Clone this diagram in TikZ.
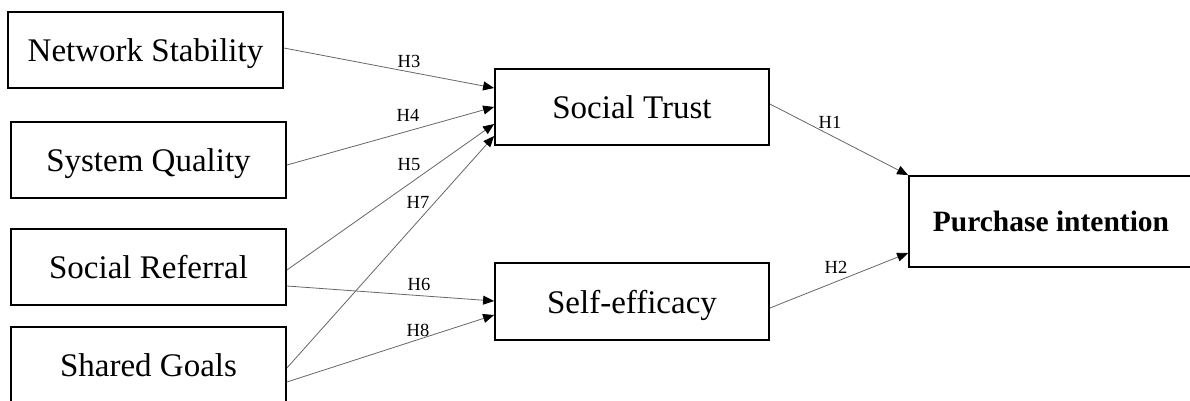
\documentclass[tikz,border=0pt]{standalone}
\usepackage{fontspec}
\setmainfont{Liberation Serif}
\usetikzlibrary{arrows.meta,calc}

\tikzset{
  construct/.style={draw, line width=1.8pt, rectangle, inner sep=0pt,
    minimum width=275pt, minimum height=76pt, text depth=0pt,
    font=\fontsize{33}{38}\selectfont},
  hpath/.style={draw=black!60, line width=0.8pt,
    -{Triangle[length=11pt,width=9pt,black]}},
  hyp/.style={font=\fontsize{18.5}{21}\selectfont, inner sep=0pt}
}

\begin{document}
\begin{tikzpicture}[x=1pt,y=-1pt]
  \useasboundingbox (0,0) rectangle (1190,400);
  \clip (0,0) rectangle (1190,400);

  % antecedents
  \node[construct] (ns) at (145.5,50)  {Network Stability};
  \node[construct] (sq) at (148.5,160) {System Quality};
  \node[construct] (sr) at (148.5,267) {Social Referral};
  \node[construct] (sg) at (148.5,365) {Shared Goals};

  % mediators
  \node[construct, minimum width=274pt] (st) at (632,107)   {Social Trust};
  \node[construct, minimum width=274pt, minimum height=77pt] (se) at (632,301.5) {Self-efficacy};

  % outcome
  \node[construct, minimum width=284pt, minimum height=91pt,
        font=\fontsize{29.5}{34}\selectfont\bfseries] (pi) at (1051,221.5) {Purchase intention};

  % hypothesised paths
  \draw[hpath] ($(ns.east)+(0,-2)$)  -- ($(st.west)+(0,-19)$);
  \draw[hpath] ($(sq.east)+(0,5)$)   -- (st.west);
  \draw[hpath] ($(sr.east)+(0,3)$)   -- ($(st.west)+(0,17)$);
  \draw[hpath] ($(sg.east)+(0,3)$)   -- ($(st.west)+(0,29)$);
  \draw[hpath] ($(sr.east)+(0,19)$)  -- ($(se.west)+(0,-0.5)$);
  \draw[hpath] ($(sg.east)+(0,17)$)  -- ($(se.west)+(0,13.5)$);
  \draw[hpath] ($(st.east)+(0,-3)$)  -- (pi.north west);
  \draw[hpath] ($(se.east)+(0,6.5)$) -- ($(pi.west)+(0,31.5)$);

  % path labels
  \node[hyp] (h3) at (409,61)  {H3};
  \node[hyp] (h4) at (408,115) {H4};
  \node[hyp] (h5) at (409,165) {H5};
  \node[hyp] (h7) at (418,202) {H7};
  \node[hyp] (h6) at (419,284) {H6};
  \node[hyp] (h8) at (418,330) {H8};
  \node[hyp] (h1) at (830,122) {H1};
  \node[hyp] (h2) at (836,267) {H2};
\end{tikzpicture}
\end{document}
